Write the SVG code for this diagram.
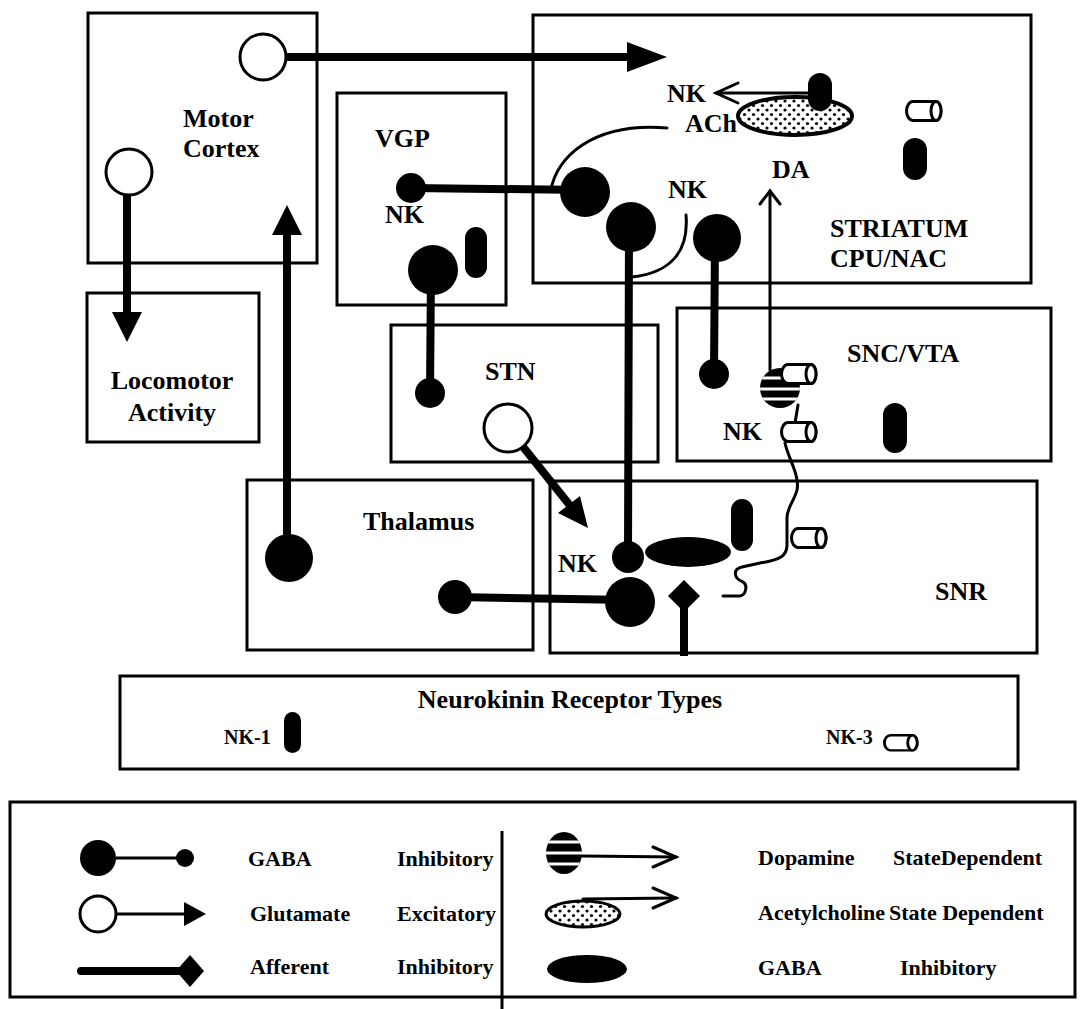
<svg xmlns="http://www.w3.org/2000/svg" xmlns:xlink="http://www.w3.org/1999/xlink" width="1082" height="1009" viewBox="0 0 1082 1009">
<style>
.box{fill:none;stroke:#000;stroke-width:3}
.thick{stroke:#000;stroke-width:8;fill:none;stroke-linecap:round}
.thin{stroke:#000;stroke-width:3;fill:none;stroke-linecap:round}
.fill{fill:#000}
.open{fill:#fff;stroke:#000;stroke-width:3}
.pill{fill:#000}
.lbl{font-family:"Liberation Serif","Times New Roman",serif;font-weight:bold;font-size:26px;fill:#000}
.leg{font-family:"Liberation Serif","Times New Roman",serif;font-weight:bold;font-size:22px;fill:#000}
.nkt{font-family:"Liberation Serif","Times New Roman",serif;font-weight:bold;font-size:20px;fill:#000}
</style>
<defs>
<pattern id="dots" width="9" height="9" patternUnits="userSpaceOnUse">
<rect width="9" height="9" fill="#fff"/>
<circle cx="2" cy="2" r="1.6" fill="#000"/>
<circle cx="6.5" cy="6.5" r="1.6" fill="#000"/>
</pattern>
<g id="nk3">
<path d="M8,1.5 H31 A5,9.5 0 0 1 31,20.5 H8 A6.5,9.5 0 0 1 8,1.5 Z" fill="#fff" stroke="#000" stroke-width="3"/>
<ellipse cx="31" cy="11" rx="5" ry="9.5" fill="#fff" stroke="#000" stroke-width="3"/>
</g>
<clipPath id="clipSnc"><circle cx="780" cy="388" r="20"/></clipPath>
<clipPath id="clipLeg"><ellipse cx="564" cy="853" rx="18" ry="21"/></clipPath>
</defs>
<rect width="1082" height="1009" fill="#fff"/>

<g id="connectors">
<line class="thick" x1="286" y1="57" x2="630" y2="57"/>
<polygon class="fill" points="627,42 667,57 627,72"/>
<line class="thick" x1="127" y1="195" x2="127" y2="314"/>
<polygon class="fill" points="112,312 142,312 127,342"/>
<line class="thick" x1="287" y1="558" x2="287" y2="233"/>
<polygon class="fill" points="272,235 302,235 287,205"/>
<line class="thick" x1="411" y1="188" x2="585" y2="190"/>
<line class="thick" x1="431" y1="270" x2="430" y2="393"/>
<line class="thick" x1="629" y1="227" x2="628" y2="557"/>
<line class="thick" x1="715" y1="238" x2="714" y2="374"/>
<line class="thick" x1="455" y1="597" x2="630" y2="600"/>
<line class="thick" x1="508" y1="428" x2="572" y2="508"/>
<polygon class="fill" points="558,513 580,496 588,528"/>
<line class="thick" x1="684" y1="600" x2="684" y2="656" style="stroke-linecap:butt"/>
<path class="thin" d="M551,190 C556,158 592,122 667,128"/>
<path class="thin" d="M686,215 C689,252 670,273 632,277"/>
<line class="thin" x1="770" y1="370" x2="770" y2="191"/>
<polyline class="thin" points="760,204 770,191 780,204"/>
<line class="thin" x1="812" y1="93" x2="716" y2="93"/>
<polyline class="thin" points="738,83 716,93 738,103"/>
<line class="thin" x1="798" y1="405" x2="795" y2="423"/>
<path class="thin" d="M785,443 C788,458 800,475 797,490 C794,502 786,508 787,520 L787,545 C787,556 780,560 760,563 L742,567 C733,569 733,578 743,582 C748,585 746,595 740,596 L723,596"/>
</g>

<g id="motor-cortex">
<rect class="box" x="88" y="13" width="229" height="250"/>
<circle class="open" cx="263" cy="57" r="23"/>
<circle class="open" cx="129" cy="172" r="23"/>
<text class="lbl" x="183" y="127">Motor</text>
<text class="lbl" x="183" y="157">Cortex</text>
</g>

<g id="locomotor">
<rect class="box" x="87" y="293" width="172" height="149"/>
<text class="lbl" x="172" y="389" text-anchor="middle">Locomotor</text>
<text class="lbl" x="172" y="421" text-anchor="middle">Activity</text>
</g>

<g id="vgp">
<rect class="box" x="337" y="93" width="169" height="212"/>
<text class="lbl" x="375" y="147">VGP</text>
<circle class="fill" cx="411" cy="188" r="15"/>
<text class="lbl" x="385" y="223">NK</text>
<circle class="fill" cx="433" cy="270" r="25"/>
<rect class="pill" x="465" y="227" width="22" height="51" rx="11"/>
</g>

<g id="striatum">
<rect class="box" x="533" y="15" width="498" height="268"/>
<circle class="fill" cx="585" cy="192" r="25"/>
<circle class="fill" cx="631" cy="227" r="25"/>
<circle class="fill" cx="717" cy="238" r="24"/>
<text class="lbl" x="667" y="102">NK</text>
<text class="lbl" x="685" y="132">ACh</text>
<ellipse cx="795" cy="116" rx="57" ry="19" fill="url(#dots)" stroke="#000" stroke-width="4"/>
<rect class="pill" x="808" y="73" width="24" height="38" rx="12"/>
<text class="lbl" x="668" y="198">NK</text>
<text class="lbl" x="772" y="178">DA</text>
<use xlink:href="#nk3" href="#nk3" x="905" y="100"/>
<rect class="pill" x="903" y="138" width="24" height="42" rx="12"/>
<text class="lbl" x="830" y="237">STRIATUM</text>
<text class="lbl" x="830" y="267">CPU/NAC</text>
</g>

<g id="stn">
<rect class="box" x="391" y="325" width="267" height="137"/>
<circle class="fill" cx="430" cy="393" r="15"/>
<text class="lbl" x="485" y="380">STN</text>
<circle class="open" cx="508" cy="428" r="24"/>
</g>

<g id="snc-vta">
<rect class="box" x="677" y="308" width="374" height="153"/>
<circle class="fill" cx="714" cy="374" r="15"/>
<circle class="fill" cx="780" cy="388" r="20"/>
<g clip-path="url(#clipSnc)" stroke="#fff" stroke-width="3">
<line x1="758" y1="378" x2="802" y2="378"/>
<line x1="758" y1="389" x2="802" y2="389"/>
<line x1="758" y1="399" x2="802" y2="399"/>
</g>
<use xlink:href="#nk3" href="#nk3" x="780" y="363"/>
<text class="lbl" x="847" y="362">SNC/VTA</text>
<text class="lbl" x="723" y="440">NK</text>
<use xlink:href="#nk3" href="#nk3" x="780" y="421"/>
<rect class="pill" x="883" y="403" width="24" height="50" rx="12"/>
</g>

<g id="thalamus">
<rect class="box" x="247" y="480" width="286" height="170"/>
<text class="lbl" x="363" y="530">Thalamus</text>
<circle class="fill" cx="289" cy="558" r="24"/>
<circle class="fill" cx="455" cy="597" r="17"/>
</g>

<g id="snr">
<rect class="box" x="550" y="481" width="487" height="172"/>
<text class="lbl" x="558" y="572">NK</text>
<circle class="fill" cx="628" cy="557" r="16"/>
<circle class="fill" cx="630" cy="602" r="25"/>
<ellipse class="fill" cx="688" cy="552" rx="43" ry="15"/>
<rect class="pill" x="731" y="499" width="22" height="52" rx="11"/>
<polygon class="fill" points="684,580 700,596 684,612 668,596"/>
<use xlink:href="#nk3" href="#nk3" x="790" y="527"/>
<text class="lbl" x="935" y="600">SNR</text>
</g>

<g id="receptor-types">
<rect class="box" x="120" y="676" width="898" height="93"/>
<text class="lbl" x="570" y="708" text-anchor="middle">Neurokinin Receptor Types</text>
<text class="nkt" x="224" y="744">NK-1</text>
<rect class="pill" x="284" y="712" width="17" height="41" rx="8.5"/>
<text class="nkt" x="826" y="744">NK-3</text>
<use xlink:href="#nk3" href="#nk3" transform="translate(883 734) scale(0.95 0.8)"/>
</g>

<g id="legend">
<rect class="box" x="10" y="802" width="1065" height="195"/>
<line x1="502" y1="831" x2="502" y2="1009" stroke="#000" stroke-width="3"/>
<line class="thin" x1="98" y1="858" x2="185" y2="858"/>
<circle class="fill" cx="98" cy="858" r="18"/>
<circle class="fill" cx="185" cy="858" r="9"/>
<line class="thin" x1="116" y1="914" x2="186" y2="914"/>
<circle class="open" cx="98" cy="914" r="18"/>
<polygon class="fill" points="184,902 206,914 184,926"/>
<line class="thick" x1="81" y1="971" x2="180" y2="971"/>
<polygon class="fill" points="190,955 204,971 190,987 176,971"/>
<text class="leg" x="248" y="866">GABA</text>
<text class="leg" x="397" y="866">Inhibitory</text>
<text class="leg" x="250" y="921">Glutamate</text>
<text class="leg" x="397" y="921">Excitatory</text>
<text class="leg" x="250" y="974">Afferent</text>
<text class="leg" x="397" y="974">Inhibitory</text>
<line class="thin" x1="582" y1="856" x2="676" y2="857"/>
<polyline class="thin" points="653,847 676,857 653,867"/>
<ellipse class="fill" cx="564" cy="853" rx="18" ry="21"/>
<g clip-path="url(#clipLeg)" stroke="#fff" stroke-width="3">
<line x1="544" y1="842" x2="584" y2="842"/>
<line x1="544" y1="853" x2="584" y2="853"/>
<line x1="544" y1="864" x2="584" y2="864"/>
</g>
<line class="thin" x1="583" y1="899" x2="676" y2="898"/>
<polyline class="thin" points="653,888 676,898 653,908"/>
<ellipse cx="583" cy="914" rx="37" ry="13" fill="url(#dots)" stroke="#000" stroke-width="3"/>
<ellipse class="fill" cx="587" cy="969" rx="40" ry="14"/>
<text class="leg" x="758" y="865">Dopamine</text>
<text class="leg" x="893" y="865">StateDependent</text>
<text class="leg" x="758" y="920">Acetylcholine</text>
<text class="leg" x="889" y="920">State Dependent</text>
<text class="leg" x="758" y="975">GABA</text>
<text class="leg" x="900" y="975">Inhibitory</text>
</g>
</svg>
